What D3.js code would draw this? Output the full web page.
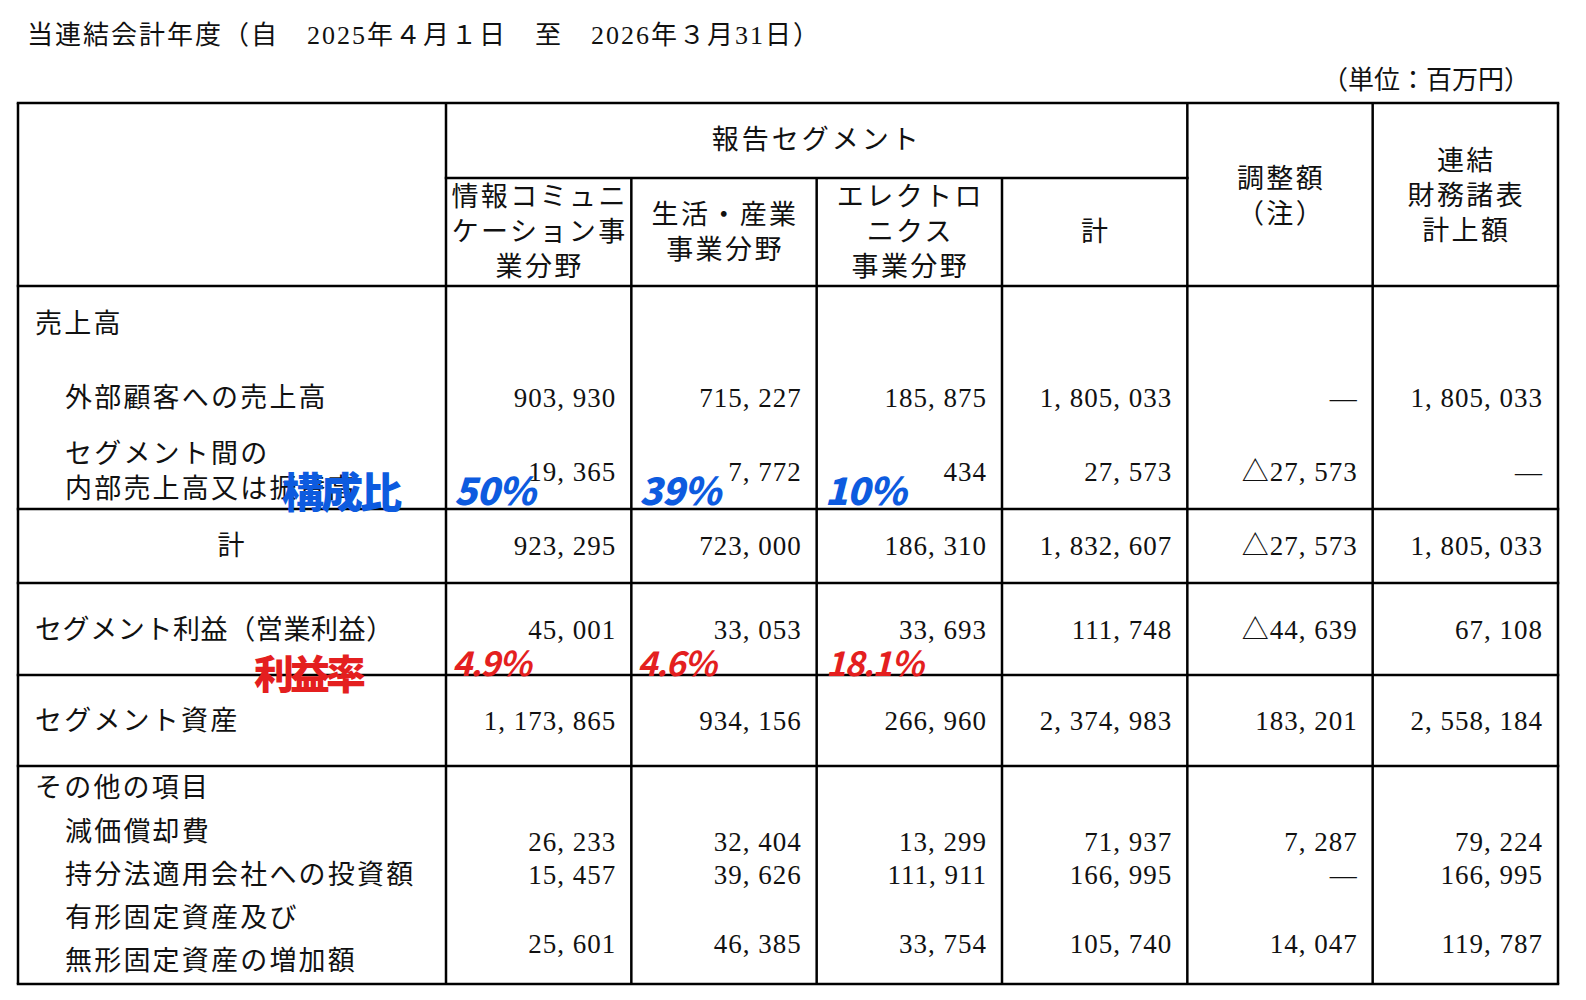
<!DOCTYPE html>
<html><head><meta charset="utf-8">
<script src="https://cdn.jsdelivr.net/npm/d3@7/dist/d3.min.js"></script>
<style>
html,body{margin:0;padding:0;background:#fff;overflow:hidden;width:100%;height:100%;}
svg{display:block;}
</style></head>
<body>
<svg id="c" viewBox="0 0 1586 1000" preserveAspectRatio="xMinYMin meet" style="width:100vw;height:100vh"></svg>
<script>
// ---------- data ----------
const title = "当連結会計年度（自　2025年４月１日　至　2026年３月31日）";
const unitLabel = "（単位：百万円）";
const groupHeader = "報告セグメント";
const columnHeaders = [
  ["情報コミュニ","ケーション事","業分野"],
  ["生活・産業","事業分野"],
  ["エレクトロ","ニクス","事業分野"],
  ["計"],
  ["調整額","（注）"],
  ["連結","財務諸表","計上額"]
];
const rowKeys = ["external","inter","total","profit","assets","depreciation","equity","capex"];
const externalSales = [903930, 715227, 185875, 1805033, null, 1805033];
const interSales    = [19365, 7772, 434, 27573, -27573, null];
const totalSales    = [923295, 723000, 186310, 1832607, -27573, 1805033];
const segmentProfit = [45001, 33053, 33693, 111748, -44639, 67108];
const segmentAssets = [1173865, 934156, 266960, 2374983, 183201, 2558184];
const depreciation  = [26233, 32404, 13299, 71937, 7287, 79224];
const equityInvest  = [15457, 39626, 111911, 166995, null, 166995];
const capexIncrease = [25601, 46385, 33754, 105740, 14047, 119787];
const compositionRatio = ["50%", "39%", "10%"];
const profitMargin     = ["4.9%", "4.6%", "18.1%"];
const compositionLabel = "構成比";
const marginLabel = "利益率";

// ---------- layout ----------
const svg = d3.select("#c");
const FONT = "'Liberation Serif','Noto Sans CJK JP',serif";
const HAND = "'Noto Sans CJK JP','DejaVu Sans',sans-serif";
const tableLeft = 18, tableRight = 1558, labelColRight = 446;
const x = d3.scaleLinear().domain([0, 6]).range([labelColRight, tableRight]);
const rowLines = d3.scaleOrdinal()
  .domain(["top","headerBottom","salesBottom","totalBottom","profitBottom","assetsBottom","bottom"])
  .range([103, 286, 509, 583, 675, 766, 984]);
const valueY = d3.scaleOrdinal().domain(rowKeys).range([398, 472, 546, 630, 721, 842, 875, 944]);
const rows = {external: externalSales, inter: interSales, total: totalSales, profit: segmentProfit,
  assets: segmentAssets, depreciation: depreciation, equity: equityInvest, capex: capexIncrease};

const fmtBase = d3.format(",");
function fmt(v){
  if (v === null) return "―";
  const s = fmtBase(Math.abs(v)).replace(/,/g, ", ");
  return v < 0 ? "△" + s : s;
}

function txt(g, s, px, py, opts = {}){
  return g.append("text").attr("x", px).attr("y", py)
    .attr("dominant-baseline", "central")
    .attr("text-anchor", opts.anchor || "start")
    .attr("font-family", opts.font || FONT)
    .attr("font-size", opts.size || 27)
    .attr("font-weight", opts.weight || 400)
    .attr("letter-spacing", opts.ls === undefined ? 2.2 : opts.ls)
    .attr("fill", opts.fill || "#111")
    .attr("font-style", opts.style || "normal")
    .attr("transform", opts.transform || null)
    .text(s);
}

const gText = svg.append("g");
txt(gText, title, 27, 35, {size: 26, ls: 2});
txt(gText, unitLabel, 1530, 80, {anchor: "end", size: 26, ls: 0});

// ---------- grid ----------
const gLines = svg.append("g").attr("stroke", "#000").attr("stroke-width", 2.5);
const hLines = [
  [tableLeft, tableRight, rowLines("top")],
  [x(0), x(4), 178],
  [tableLeft, tableRight, rowLines("headerBottom")],
  [tableLeft, tableRight, rowLines("salesBottom")],
  [tableLeft, tableRight, rowLines("totalBottom")],
  [tableLeft, tableRight, rowLines("profitBottom")],
  [tableLeft, tableRight, rowLines("assetsBottom")],
  [tableLeft, tableRight, rowLines("bottom")]
];
gLines.selectAll("line.h").data(hLines).join("line").attr("class","h")
  .attr("x1", d => d[0] - 1.25).attr("x2", d => d[1] + 1.25).attr("y1", d => d[2]).attr("y2", d => d[2]);
const vLines = [[tableLeft, rowLines("top")], [x(0), rowLines("top")]]
  .concat(d3.range(1, 4).map(i => [x(i), 178]))
  .concat(d3.range(4, 7).map(i => [x(i), rowLines("top")]));
gLines.selectAll("line.v").data(vLines).join("line").attr("class","v")
  .attr("x1", d => d[0]).attr("x2", d => d[0]).attr("y1", d => d[1]).attr("y2", rowLines("bottom"));

// ---------- header ----------
txt(gText, groupHeader, (x(0) + x(4)) / 2, 140, {anchor: "middle", ls: 3});
const headerCenters = [232, 232, 232, 232, 196, 196];
columnHeaders.forEach((lines, i) => {
  const cx = (x(i) + x(i + 1)) / 2;
  const step = 35;
  const y0 = headerCenters[i] - (lines.length - 1) * step / 2;
  lines.forEach((l, j) => txt(gText, l, cx + 1, y0 + j * step, {anchor: "middle", ls: 2.4}));
});

// ---------- row labels ----------
const labels = [
  ["売上高", 35, 324],
  ["外部顧客への売上高", 65, 398],
  ["セグメント間の", 65, 454],
  ["内部売上高又は振替高", 65, 489],
  ["セグメント利益（営業利益）", 35, 630],
  ["セグメント資産", 35, 721],
  ["その他の項目", 35, 788],
  ["減価償却費", 65, 832],
  ["持分法適用会社への投資額", 65, 875],
  ["有形固定資産及び", 65, 918],
  ["無形固定資産の増加額", 65, 961]
];
labels.forEach(d => txt(gText, d[0], d[1], d[2], d[0].includes("（") ? {ls: 0.6} : {}));
txt(gText, "計", (tableLeft + labelColRight) / 2, 546, {anchor: "middle"});

// ---------- values ----------
rowKeys.forEach(k => {
  rows[k].forEach((v, i) => {
    txt(gText, fmt(v), x(i + 1) - 15, valueY(k), {anchor: "end", size: 27, ls: 1});
  });
});

// ---------- handwritten annotations ----------
const blue = "#0d5bdf", red = "#e41f1f";
const gAnn = svg.append("g");
txt(gAnn, compositionLabel, 282, 489, {font: HAND, size: 42, weight: 900, fill: blue, ls: -3});
compositionRatio.forEach((s, i) => {
  txt(gAnn, s, x(i) + 8, 488, {font: HAND, size: 38, weight: 900, fill: blue, ls: -1, style: "italic"});
});
txt(gAnn, marginLabel, 254, 672, {font: HAND, size: 40, weight: 900, fill: red, ls: -4});
profitMargin.forEach((s, i) => {
  txt(gAnn, s, x(i) + 6 + (i === 2 ? 3 : 0), 661, {font: HAND, size: 34, weight: 700, fill: red, ls: -1.5, style: "italic"});
});
</script>
</body></html>
